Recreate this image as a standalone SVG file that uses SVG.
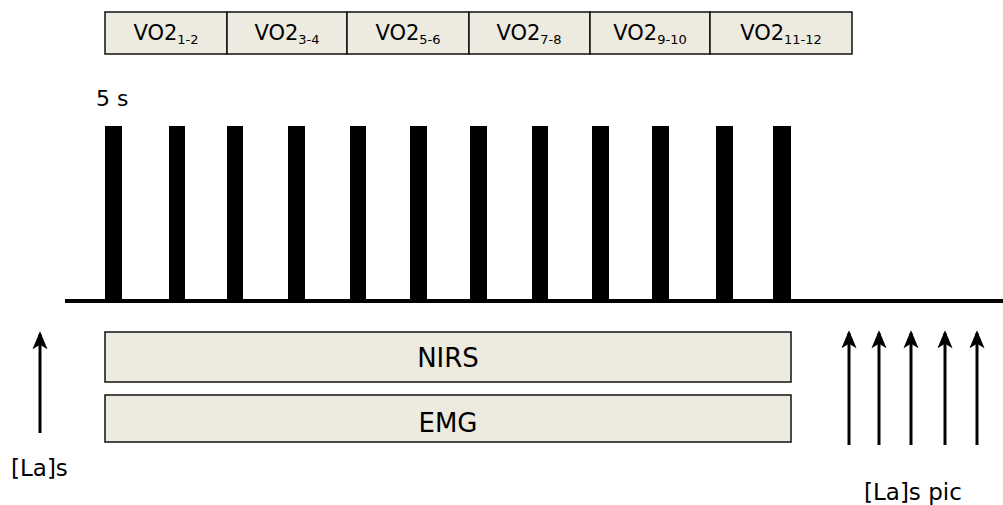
<svg xmlns="http://www.w3.org/2000/svg" width="1003" height="505" viewBox="0 0 1003 505">
<style>
.box{fill:#EDEAE0;stroke:#111;stroke-width:1.5}
.t{font-family:"DejaVu Sans","Liberation Sans",sans-serif;fill:#000}
.vo{font-size:21px}
.sub{font-size:13px}
.bar{fill:#000}
.arr{stroke:#000;stroke-width:3;fill:none}
</style>
<defs>
<marker id="ah" viewBox="0 0 10 10" refX="8.5" refY="5" markerWidth="6" markerHeight="6" markerUnits="strokeWidth" orient="auto">
<path d="M0,0.8 L10,5 L0,9.2 L2.5,5 Z" fill="#000"/>
</marker>
</defs>
<rect width="1003" height="505" fill="#fff"/>
<g id="vo2-boxes">
<g id="vo2-1"><rect class="box" x="105" y="12" width="122" height="42"/><text class="t vo" x="166" y="40" text-anchor="middle">VO2<tspan class="sub" dy="4">1-2</tspan></text></g>
<g id="vo2-2"><rect class="box" x="227" y="12" width="120" height="42"/><text class="t vo" x="287" y="40" text-anchor="middle">VO2<tspan class="sub" dy="4">3-4</tspan></text></g>
<g id="vo2-3"><rect class="box" x="347" y="12" width="122" height="42"/><text class="t vo" x="408" y="40" text-anchor="middle">VO2<tspan class="sub" dy="4">5-6</tspan></text></g>
<g id="vo2-4"><rect class="box" x="469" y="12" width="121" height="42"/><text class="t vo" x="529" y="40" text-anchor="middle">VO2<tspan class="sub" dy="4">7-8</tspan></text></g>
<g id="vo2-5"><rect class="box" x="590" y="12" width="120" height="42"/><text class="t vo" x="650" y="40" text-anchor="middle">VO2<tspan class="sub" dy="4">9-10</tspan></text></g>
<g id="vo2-6"><rect class="box" x="710" y="12" width="142" height="42"/><text class="t vo" x="781" y="40" text-anchor="middle">VO2<tspan class="sub" dy="4">11-12</tspan></text></g>
</g>
<text class="t" x="96" y="106" font-size="22">5 s</text>
<g id="sprints">
<rect class="bar" x="105" y="126" width="17" height="175"/>
<rect class="bar" x="169" y="126" width="16" height="175"/>
<rect class="bar" x="227" y="126" width="16" height="175"/>
<rect class="bar" x="288" y="126" width="17" height="175"/>
<rect class="bar" x="350" y="126" width="16" height="175"/>
<rect class="bar" x="410" y="126" width="17" height="175"/>
<rect class="bar" x="470" y="126" width="17" height="175"/>
<rect class="bar" x="532" y="126" width="16" height="175"/>
<rect class="bar" x="592" y="126" width="17" height="175"/>
<rect class="bar" x="652" y="126" width="17" height="175"/>
<rect class="bar" x="716" y="126" width="17" height="175"/>
<rect class="bar" x="773" y="126" width="18" height="175"/>
</g>
<line x1="65" y1="301" x2="1003" y2="301" stroke="#000" stroke-width="4"/>
<g id="nirs"><rect class="box" x="105" y="332" width="686" height="50"/><text class="t" x="448" y="367" font-size="26" text-anchor="middle">NIRS</text></g>
<g id="emg"><rect class="box" x="105" y="395" width="686" height="47"/><text class="t" x="448" y="432" font-size="26" text-anchor="middle">EMG</text></g>
<g id="connectors">
<line class="arr" x1="40" y1="433" x2="40" y2="334" marker-end="url(#ah)"/>
<line class="arr" x1="849" y1="445" x2="849" y2="333" marker-end="url(#ah)"/>
<line class="arr" x1="879" y1="445" x2="879" y2="333" marker-end="url(#ah)"/>
<line class="arr" x1="911" y1="445" x2="911" y2="333" marker-end="url(#ah)"/>
<line class="arr" x1="945" y1="445" x2="945" y2="333" marker-end="url(#ah)"/>
<line class="arr" x1="977" y1="445" x2="977" y2="333" marker-end="url(#ah)"/>
</g>
<text class="t" x="11" y="476" font-size="23">[La]s</text>
<text class="t" x="864" y="500" font-size="23">[La]s pic</text>
</svg>
